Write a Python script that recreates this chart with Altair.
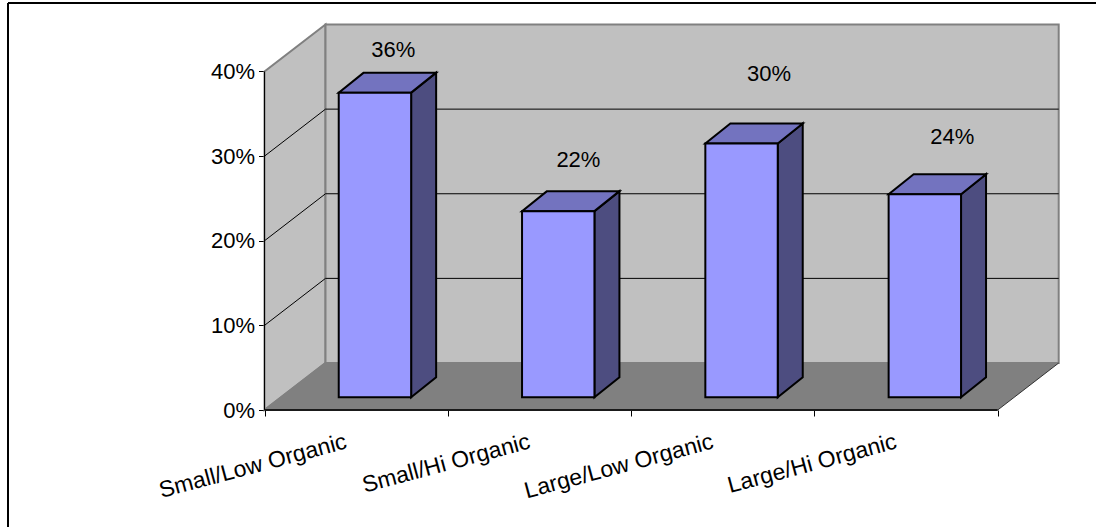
import altair as alt
import pandas as pd

# Series
categories = ["Small/Low Organic", "Small/Hi Organic", "Large/Low Organic", "Large/Hi Organic"]
shares = [36, 22, 30, 24]
y_ticks = [0, 10, 20, 30, 40]
x_ticks = [0, 1, 2, 3, 4]

# Scale set-up: x runs in category slots, y in percentage points
W, H = 1096, 527
ORIGIN_X, ORIGIN_Y = 264.5, 410.0
PX_PER_SLOT, PX_PER_PCT = 183.3, 8.4625
x_scale = alt.Scale(domain=[-ORIGIN_X / PX_PER_SLOT, (W - ORIGIN_X) / PX_PER_SLOT], nice=False, zero=False)
y_scale = alt.Scale(domain=[-(H - ORIGIN_Y) / PX_PER_PCT, ORIGIN_Y / PX_PER_PCT], nice=False, zero=False)

# Oblique projection of the box and of each column
ROOM_DX, ROOM_DY = 61 / PX_PER_SLOT, 47 / PX_PER_PCT
BAR_DX, BAR_DY = 25 / PX_PER_SLOT, 20 / PX_PER_PCT
BAR_LEFT, BAR_WIDTH = 0.405, 0.395
BAR_BASE = 12.7 / PX_PER_PCT
TOP = y_ticks[-1]
SLOTS = x_ticks[-1]

# Manually placed value labels: shift from the column centre and lift above its back edge
label_shift = [0.10, 0.11, 0.15, 0.15]
label_lift = [2.67, 3.66, 5.84, 4.40]

FONT = "Liberation Sans"
WALL, FLOOR, EDGE = "#C0C0C0", "#808080", "#808080"
FRONT, SIDE, CAP = "#9999FF", "#4D4D80", "#7373BF"
FONT_SIZE = 22
CATEGORY_FONT_SIZE = 23


def X(field="x"):
    return alt.X(f"{field}:Q", scale=x_scale, axis=None)


def Y(field="y"):
    return alt.Y(f"{field}:Q", scale=y_scale, axis=None)


# Left wall, drawn as a two-point area between the floor and the top edge
left_wall = alt.Chart(pd.DataFrame({
    "x": [0, ROOM_DX], "y": [0, ROOM_DY], "y2": [TOP, TOP + ROOM_DY],
})).mark_area(color=WALL, stroke=EDGE, strokeWidth=2).encode(X(), Y(), y2="y2:Q")

back_wall = alt.Chart(pd.DataFrame({
    "x": [ROOM_DX], "x2": [SLOTS + ROOM_DX], "y": [ROOM_DY], "y2": [TOP + ROOM_DY],
})).mark_rect(color=WALL, stroke=EDGE, strokeWidth=2).encode(X(), x2="x2:Q", y=Y(), y2="y2:Q")

floor = alt.Chart(pd.DataFrame({
    "y": [0, ROOM_DY], "x": [0, ROOM_DX], "x2": [SLOTS, SLOTS + ROOM_DX],
})).mark_area(color=FLOOR, orient="horizontal").encode(X(), x2="x2:Q", y=Y())

# Gridlines run along the left wall and then across the back wall
grid_rows = []
for v in y_ticks[1:]:
    grid_rows.append({"x": 0, "x2": ROOM_DX, "y": v, "y2": v + ROOM_DY})
    if v < TOP:
        grid_rows.append({"x": ROOM_DX, "x2": SLOTS + ROOM_DX, "y": v + ROOM_DY, "y2": v + ROOM_DY})
gridlines = alt.Chart(pd.DataFrame(grid_rows[:-1])).mark_rule(color="#000000", strokeWidth=1).encode(
    X(), x2="x2:Q", y=Y(), y2="y2:Q"
)

floor_edge = alt.Chart(pd.DataFrame({
    "x": [SLOTS], "x2": [SLOTS + ROOM_DX], "y": [0], "y2": [ROOM_DY],
})).mark_rule(color="#333333", strokeWidth=1).encode(X(), x2="x2:Q", y=Y(), y2="y2:Q")

floor_left_edge = alt.Chart(pd.DataFrame({
    "x": [0], "x2": [ROOM_DX], "y": [0], "y2": [ROOM_DY],
})).mark_rule(color=EDGE, strokeWidth=2).encode(X(), x2="x2:Q", y=Y(), y2="y2:Q")

# Real axes, pulled in from the chart edges onto the front of the box
axes = alt.Chart(pd.DataFrame({"x": [0], "y": [0]})).mark_point(opacity=0).encode(
    x=alt.X("x:Q", scale=x_scale, title=None, axis=alt.Axis(
        orient="bottom", offset=-(H - ORIGIN_Y), values=x_ticks, labels=False, grid=False,
        domain=False, tickColor="#000000", tickSize=6, tickWidth=1,
    )),
    y=alt.Y("y:Q", scale=y_scale, title=None, axis=alt.Axis(
        orient="left", offset=-ORIGIN_X, values=y_ticks, grid=False, domain=False,
        labelExpr="datum.value + '%'", labelFont=FONT, labelFontSize=FONT_SIZE,
        labelColor="#000000", labelPadding=4, tickColor="#000000", tickSize=6, tickWidth=1,
    )),
)

y_axis_line = alt.Chart(pd.DataFrame({"x": [0], "y": [0], "y2": [TOP]})).mark_rule(
    color="#000000", strokeWidth=1
).encode(X(), Y(), y2="y2:Q")
x_axis_line = alt.Chart(pd.DataFrame({"x": [0], "x2": [SLOTS], "y": [0]})).mark_rule(
    color="#1A1A1A", strokeWidth=2
).encode(X(), x2="x2:Q", y=Y())

# Columns: front face, right side and top face, each computed from its share
front_rows, side_rows, cap_rows, label_rows = [], [], [], []
for i, (name, v) in enumerate(zip(categories, shares)):
    left = i + BAR_LEFT
    right = left + BAR_WIDTH
    base = BAR_BASE
    top = BAR_BASE + v
    front_rows.append({"x": left, "x2": right, "y": base, "y2": top})
    side_rows.append({"bar": name, "x": right, "y": base, "y2": top})
    side_rows.append({"bar": name, "x": right + BAR_DX, "y": base + BAR_DY, "y2": top + BAR_DY})
    cap_rows.append({"bar": name, "y": top, "x": left, "x2": right})
    cap_rows.append({"bar": name, "y": top + BAR_DY, "x": left + BAR_DX, "x2": right + BAR_DX})
    label_rows.append({
        "x": (left + right) / 2 + label_shift[i],
        "y": top + BAR_DY + label_lift[i],
        "text": f"{v}%",
    })

bar_style = dict(stroke="#000000", strokeWidth=2, strokeJoin="miter")
bar_sides = alt.Chart(pd.DataFrame(side_rows)).mark_area(color=SIDE, **bar_style).encode(
    X(), Y(), y2="y2:Q", detail="bar:N"
)
bar_caps = alt.Chart(pd.DataFrame(cap_rows)).mark_area(color=CAP, orient="horizontal", **bar_style).encode(
    X(), x2="x2:Q", y=Y(), detail="bar:N"
)
bar_fronts = alt.Chart(pd.DataFrame(front_rows)).mark_rect(color=FRONT, **bar_style).encode(
    X(), x2="x2:Q", y=Y(), y2="y2:Q"
)

value_labels = alt.Chart(pd.DataFrame(label_rows)).mark_text(
    font=FONT, fontSize=FONT_SIZE, color="#000000", baseline="middle", align="center"
).encode(X(), Y(), text="text:N")

# Slanted category names, each ending just left of its slot centre
category_labels = alt.Chart(pd.DataFrame({
    "x": [i + 0.4555 for i in range(len(categories))],
    "y": [-4.5] * len(categories),
    "text": categories,
})).mark_text(
    font=FONT, fontSize=CATEGORY_FONT_SIZE, color="#000000", align="right", baseline="alphabetic", angle=345
).encode(X(), Y(), text="text:N")

# Heavy chart border along the left and top edges
border_left = alt.Chart(pd.DataFrame({"k": [0]})).mark_rule(color="#000000", strokeWidth=2).encode(
    x=alt.value(8), y=alt.value(3), y2=alt.value(H)
)
border_top = alt.Chart(pd.DataFrame({"k": [0]})).mark_rule(color="#000000", strokeWidth=2).encode(
    x=alt.value(8), x2=alt.value(W), y=alt.value(3)
)

chart = alt.layer(
    left_wall, back_wall, floor, floor_left_edge, floor_edge, gridlines, y_axis_line, x_axis_line,
    axes, bar_sides, bar_caps, bar_fronts, value_labels, category_labels, border_left, border_top,
).resolve_axis(x="independent", y="independent").properties(
    width=W, height=H, padding=0, autosize=alt.AutoSizeParams(type="none"), background="#FFFFFF"
).configure_view(stroke=None)

chart.save("out.html", embed_options={"renderer": "svg", "actions": False})
